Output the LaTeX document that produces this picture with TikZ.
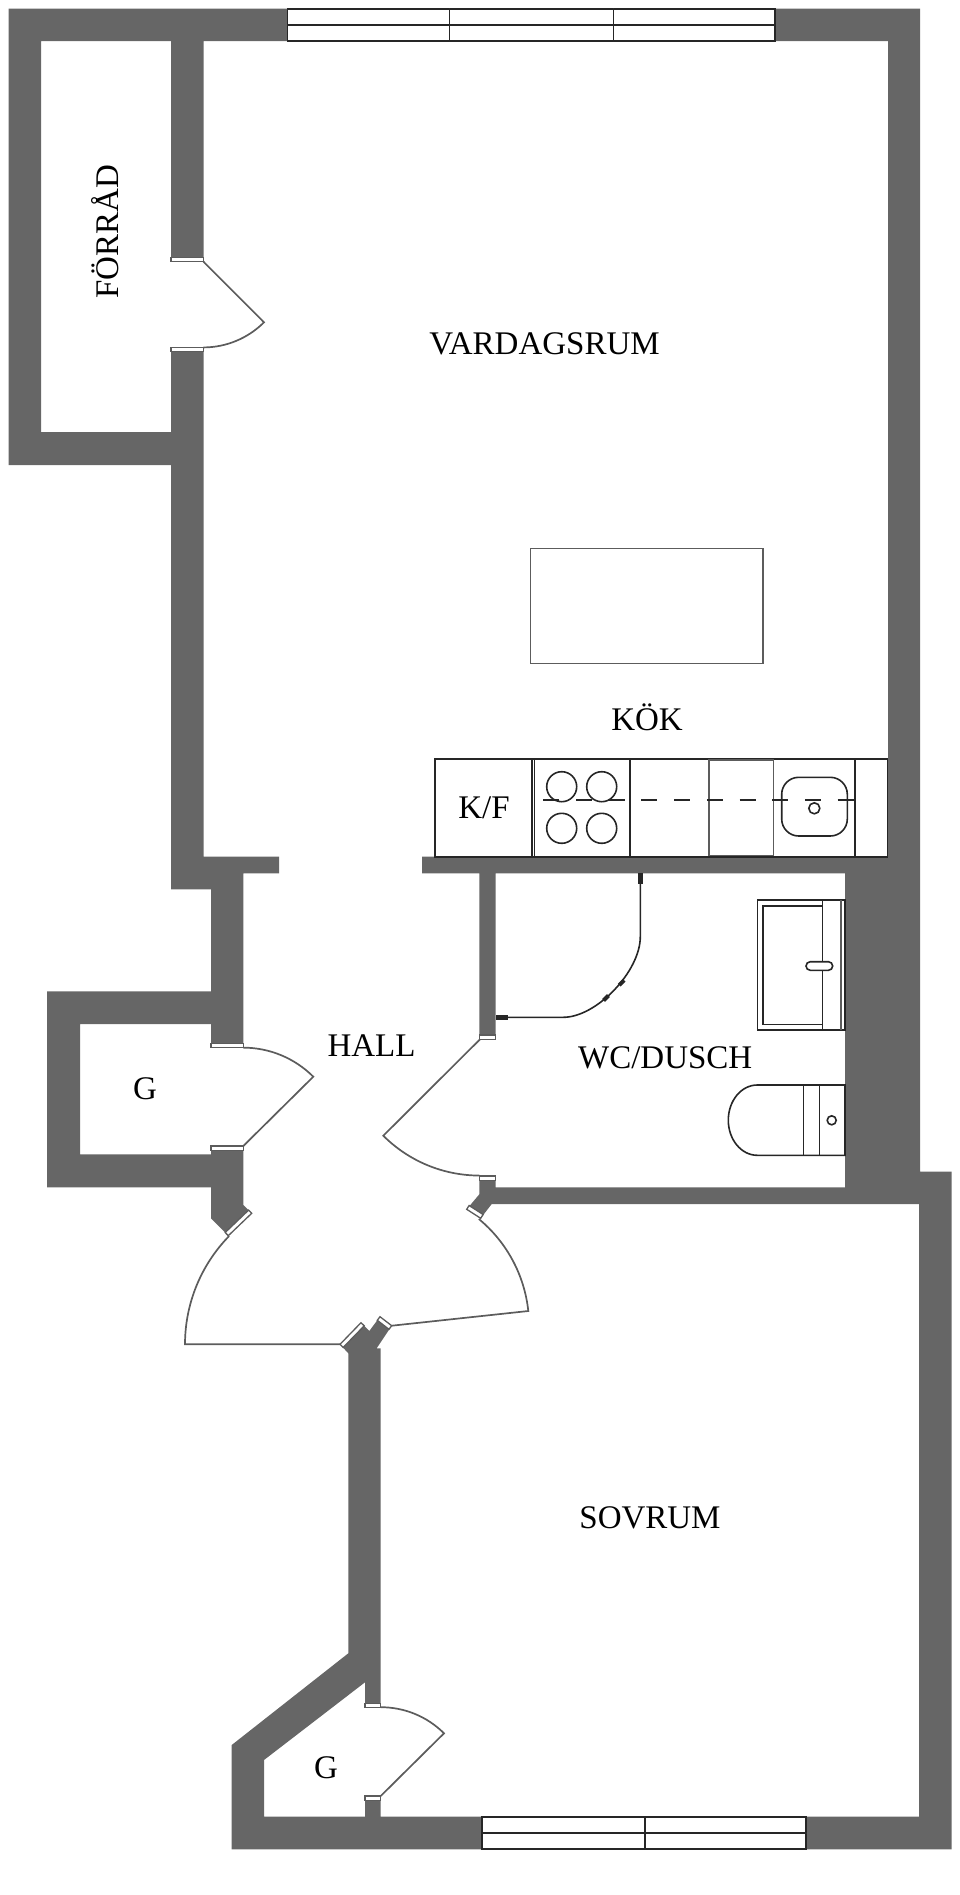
\documentclass[tikz,border=0pt]{standalone}
\usepackage{fontspec}
\setmainfont{Liberation Serif}
\usepackage{tikz}
\tikzset{
    %Define style for walls
    wall/.style={
           fill=wallgray,
           draw=none},
    %Define style for door posts
    jamb/.style={
           draw=doorgray,
           fill=white,
           line width=1.3pt},
    %Define style for door leaves
    leaf/.style={
           draw=doorgray,
           line width=1.7pt},
    % Define style for fittings
    fixture/.style={
           draw=inkgray,
           line width=1.6pt},
    thinfixture/.style={
           draw=doorgray,
           line width=1.2pt},
    glazing/.style={
           draw=inkgray,
           fill=white,
           line width=1.7pt},
    room/.style={
           font=\fontsize{33}{33}\selectfont,
           text=black,
           inner sep=0pt,
           anchor=base},
    cliphold/.style={
           fill=inkgray,
           draw=none}
}
\definecolor{wallgray}{HTML}{666666}
\definecolor{doorgray}{HTML}{5C5C5C}
\definecolor{inkgray}{HTML}{262626}
\begin{document}
\begin{tikzpicture}[x=1pt,y=-1pt]
\useasboundingbox (0,0) rectangle (960,1895);

 %walls
\path[wall] (8.5,8.5) -- (920,8.5) -- (920,1171.5) -- (951.5,1171.5) -- (951.5,1849.3)
  -- (231.7,1849.3) -- (231.7,1745) -- (348.3,1653.3) -- (348.3,1353.3) -- (340,1344.3)
  -- (361,1322.7) -- (369.3,1331) -- (380,1316.7) -- (391.7,1325.7) -- (376.7,1348.3)
  -- (380.7,1348.3) -- (380.7,1703.3) -- (365,1703.3) -- (365,1682.3) -- (264,1760)
  -- (264,1816.7) -- (365,1816.7) -- (365,1796) -- (380.7,1796) -- (380.7,1816.7)
  -- (919,1816.7) -- (919,1204) -- (491.7,1204) -- (480.7,1218.3) -- (466.7,1209.3)
  -- (479.3,1194.3) -- (479.3,1176) -- (495.5,1176) -- (495.5,1187.3) -- (845,1187.3)
  -- (845,873.3) -- (495.7,873.3) -- (495.7,1035) -- (479.3,1035) -- (479.3,873.3)
  -- (422,873.3) -- (422,856.7) -- (888,856.7) -- (888,41) -- (203.5,41)
  -- (203.5,257.3) -- (171,257.3) -- (171,41) -- (41,41) -- (41,432) -- (171,432)
  -- (171,347.3) -- (203.5,347.3) -- (203.5,856.7) -- (279,856.7) -- (279,873.3)
  -- (243.3,873.3) -- (243.3,1043.3) -- (211,1043.3) -- (211,1024) -- (80,1024)
  -- (80,1154.3) -- (211,1154.3) -- (211,1146) -- (243.3,1146) -- (243.3,1205)
  -- (251.7,1213.3) -- (228.3,1235.7) -- (211,1218.3) -- (211,1187.3) -- (47,1187.3)
  -- (47,991.3) -- (211,991.3) -- (211,889.3) -- (171,889.3) -- (171,465)
  -- (8.5,465) -- cycle;

 %door posts
\draw[jamb] (171,257.3) rectangle (203.5,261.7);
\draw[jamb] (171,347.3) rectangle (203.5,351.7);
\draw[jamb] (211,1043.3) rectangle (243.3,1047.3);
\draw[jamb] (211,1146) rectangle (243.3,1150.7);
\draw[jamb] (479.3,1035) rectangle (495.7,1039.3);
\draw[jamb] (479.3,1176) rectangle (495.5,1180.7);
\draw[jamb] (365,1703.3) rectangle (380.7,1707.3);
\draw[jamb] (365,1796) rectangle (380.7,1800.7);
\draw[jamb] (228.3,1235.7) -- (251.7,1213.3) -- (248.6,1210.1) -- (225.2,1232.5) -- cycle;
\draw[jamb] (466.7,1209.3) -- (480.7,1218.3) -- (483.1,1214.5) -- (469.1,1205.5) -- cycle;
\draw[jamb] (340,1344.3) -- (361,1322.7) -- (364.2,1325.8) -- (343.2,1347.4) -- cycle;
\draw[jamb] (380,1316.7) -- (391.7,1325.7) -- (389,1329.3) -- (377.3,1320.3) -- cycle;

 %door leaves
\draw[leaf] (203.5,261.7) -- (264,322.3) arc[start angle=-45,end angle=-90,radius=85.8pt];
\draw[leaf] (243.3,1146) -- (313.3,1076.7) arc[start angle=45,end angle=90,radius=99.3pt];
\draw[leaf] (480,1039.3) -- (383.3,1135.7) arc[start angle=-135,end angle=-90,radius=136pt];
\draw[leaf] (340,1344.3) -- (185,1344.3) arc[start angle=180,end angle=135.7,radius=155pt];
\draw[leaf] (391.7,1325.7) -- (528.3,1311) arc[start angle=6.1,end angle=50.4,radius=138.5pt];
\draw[leaf] (380.7,1796) -- (444,1733.3) arc[start angle=45,end angle=90,radius=89.1pt];

 %windows
\draw[glazing] (287.4,8.7) rectangle (775,41);
\draw[glazing] (287.4,24.7) -- (775,24.7);
\foreach \x in {449.5,613.5}
  \draw[glazing] (\x,8.7) -- (\x,41);
\draw[glazing] (482.3,1817.3) rectangle (806.3,1849);
\draw[glazing] (482.3,1833.3) -- (806.3,1833.3);
\draw[glazing] (645,1817.3) -- (645,1849);

 %table
\draw[thinfixture] (530.7,548.7) rectangle (763,663.3);

 %kitchen
\draw[fixture] (434.7,759) rectangle (887.5,856.7);
\foreach \x in {532,534.5,630,854.7}
  \draw[fixture] (\x,759) -- (\x,856.7);
\draw[thinfixture] (709,760) rectangle (773.7,855.7);
\draw[fixture,dash pattern=on 16pt off 16.7pt] (543.3,800) -- (854.7,800);
\foreach \x in {561.7,601.7}
  \foreach \y in {786.7,828.3}
    \draw[fixture] (\x,\y) circle (15pt);
\draw[fixture,rounded corners=17pt] (781.7,777.3) rectangle (847.3,836);
\draw[fixture] (814.3,808.3) circle (5.5pt);

 %shower screen
\draw[fixture] (640.3,884) -- (640.3,936.7) .. controls (640.3,971.4) and (596.4,1017.3) .. (563.3,1017.3) -- (507.7,1017.3);
\path[cliphold] (637.8,873.3) rectangle (642.8,884.3);
\path[cliphold] (495.7,1014.8) rectangle (507.7,1019.8);
\node[cliphold,rotate=45,minimum width=7pt,minimum height=4pt,inner sep=0pt] (hold a) at (621.7,982.7) {};
\node[cliphold,rotate=45,minimum width=7pt,minimum height=4pt,inner sep=0pt] (hold b) at (606,998) {};

 %basin
\draw[fixture] (757.3,900) rectangle (845,1030);
\draw[fixture] (822.3,905.7) -- (762.7,905.7) -- (762.7,1024.3) -- (822.3,1024.3);
\draw[fixture] (822.3,900) -- (822.3,1030);
\draw[thinfixture] (841,900) -- (841,1030);
\draw[fixture,fill=white,rounded corners=4.3pt] (806,961.7) rectangle (832.7,970.3);

 %toilet
\draw[fixture] (845,1085) -- (757.3,1085) arc[start angle=90,end angle=270,x radius=29pt,y radius=35.15pt] -- (845,1155.3) -- cycle;
\draw[fixture] (803.3,1085) -- (803.3,1155.3);
\draw[fixture] (819.3,1085) -- (819.3,1155.3);
\draw[fixture] (831.7,1120.3) circle (4.5pt);

 %rooms
\node[room,rotate=90] (forrad) at (118,232) {FÖRRÅD};
\node[room] (vardagsrum) at (544.5,354) {VARDAGSRUM};
\node[room] (kok) at (647,730.7) {KÖK};
\node[room] (kf) at (484,818.7) {K/F};
\node[room] (hall) at (371.5,1056.5) {HALL};
\node[room] (wc) at (665.2,1068) {WC/DUSCH};
\node[room] (g upper) at (145,1099.5) {G};
\node[room] (sovrum) at (650,1528.5) {SOVRUM};
\node[room] (g lower) at (326,1778) {G};
\end{tikzpicture}
\end{document}
